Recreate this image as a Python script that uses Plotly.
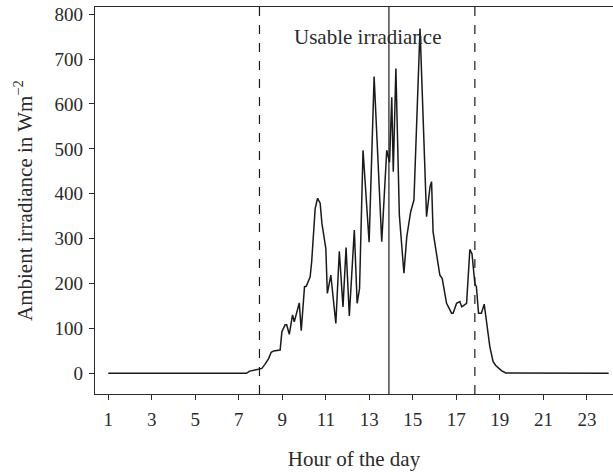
import plotly.graph_objects as go

hours = [1.0, 7.35, 7.5, 7.7, 7.94, 8.06, 8.2, 8.37, 8.49, 8.6, 8.9, 8.98, 9.13, 9.2, 9.32,
         9.47, 9.55, 9.78, 9.87, 10.02, 10.1, 10.28, 10.35, 10.51, 10.62, 10.74, 10.82,
         11.0, 11.07, 11.23, 11.46, 11.62, 11.79, 11.93, 12.08, 12.31, 12.44, 12.55, 12.71,
         12.99, 13.22, 13.57, 13.8, 13.93, 14.03, 14.1, 14.22, 14.38, 14.59, 14.72, 14.9,
         15.05, 15.33, 15.63, 15.79, 15.86, 15.93, 16.24, 16.35, 16.55, 16.78, 16.85, 17.01,
         17.16, 17.25, 17.47, 17.62, 17.72, 17.85, 17.92, 18.02, 18.15, 18.28, 18.46, 18.54,
         18.69, 18.8, 19.07, 19.27, 24.0]
irradiance = [0, 0, 5, 7, 9, 11, 20, 33, 47, 50, 52, 93, 108, 108, 87,
              130, 115, 157, 95, 193, 194, 215, 249, 367, 390, 379, 334,
              278, 178, 219, 111, 272, 148, 280, 128, 319, 156, 189, 497,
              292, 661, 293, 497, 470, 615, 449, 679, 352, 223, 304, 360,
              386, 768, 349, 416, 427, 315, 219, 211, 156, 134, 134, 156,
              160, 148, 156, 276, 266, 200, 193, 134, 134, 154, 96, 59,
              26, 18, 6, 1, 0]

x_ticks = [1, 3, 5, 7, 9, 11, 13, 15, 17, 19, 21, 23]
y_ticks = [0, 100, 200, 300, 400, 500, 600, 700, 800]
usable_start = 7.95
usable_end = 17.85
midday_line = 13.9
label_text = "Usable irradiance"

FONT = "Liberation Serif, Times New Roman, serif"
INK = "#2a2a2a"

fig = go.Figure()
fig.add_trace(go.Scatter(x=hours, y=irradiance, mode="lines",
                         line=dict(color="#1a1a1a", width=1.5), showlegend=False))

for xv, dash in [(usable_start, "dash"), (midday_line, "solid"), (usable_end, "dash")]:
    fig.add_shape(type="line", xref="x", yref="paper", x0=xv, x1=xv, y0=0, y1=1,
                  line=dict(color="#1a1a1a", width=1.2, dash=dash))

fig.add_annotation(x=12.94, y=750, xref="x", yref="y", text=label_text, showarrow=False,
                   font=dict(family=FONT, size=21, color=INK))

fig.update_layout(
    width=613, height=473,
    margin=dict(l=95, r=0, t=7, b=79),
    paper_bgcolor="white", plot_bgcolor="white",
    font=dict(family=FONT, color=INK),
    xaxis=dict(range=[0.39, 24.2], tickvals=x_ticks, ticks="outside", ticklen=5,
               tickcolor=INK, showline=True, linecolor=INK, linewidth=1.2,
               mirror=True, showgrid=False, zeroline=False, automargin=False,
               ticklabelstandoff=3,
               tickfont=dict(family=FONT, size=19, color=INK),
               title=dict(text="Hour of the day", font=dict(family=FONT, size=21, color=INK),
                          standoff=22)),
    yaxis=dict(range=[-46, 816], tickvals=y_ticks, ticks="outside", ticklen=5,
               tickcolor=INK, showline=True, linecolor=INK, linewidth=1.2,
               showgrid=False, zeroline=False, automargin=False,
               ticklabelstandoff=2,
               tickfont=dict(family=FONT, size=19, color=INK),
               title=dict(text="Ambient irradiance in Wm<sup>−2</sup>",
                          font=dict(family=FONT, size=21, color=INK), standoff=16)),
)

fig.write_html("out.html", config={"displayModeBar": False},
               post_script="document.body.style.margin='0';document.body.style.padding='0';")
